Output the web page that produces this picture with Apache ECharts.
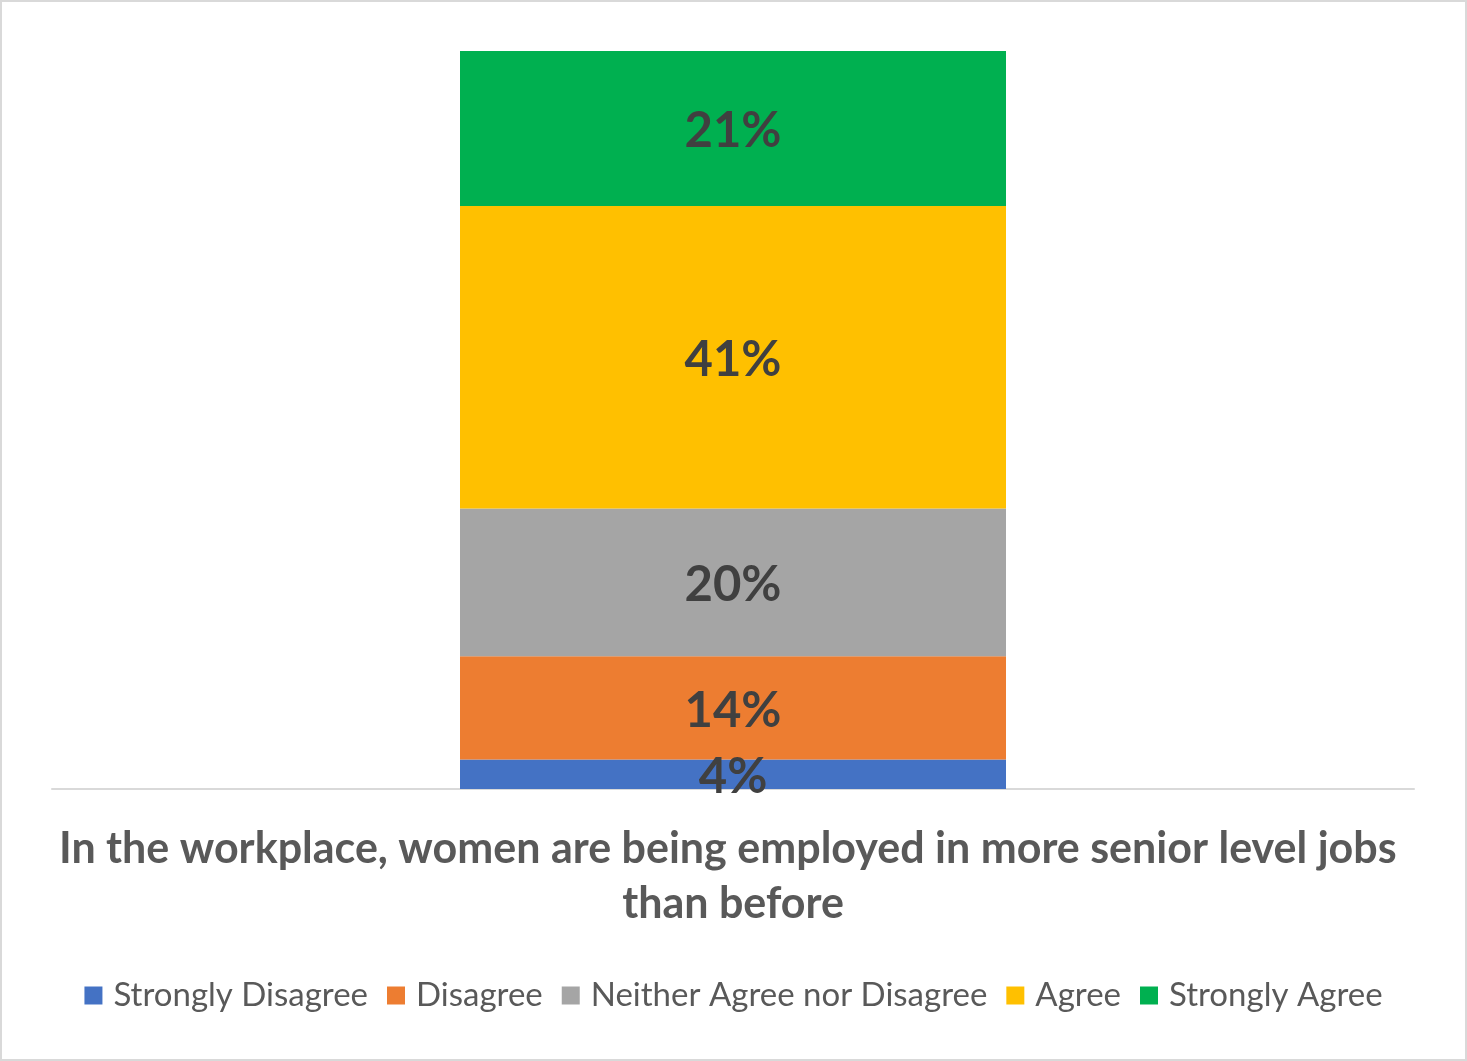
<!DOCTYPE html>
<html>
<head>
    <meta charset="utf-8">
    <title>ECharts</title>
    <script type="text/javascript" src="https://cdn.jsdelivr.net/npm/echarts@6/dist/echarts.min.js"></script>
    <style>
        html, body {margin:0; padding:0; background:#fff;}
        #main {position:absolute; left:0; top:0; width:1463px; height:1057px; border:2px solid #d9d9d9;}
    </style>
</head>
<body>
	<div id="main"></div>
	<script type="text/javascript">
	var categories = ['In the workplace, women are being employed in more senior level jobs than before'];
	var seriesNames = ['Strongly Disagree', 'Disagree', 'Neither Agree nor Disagree', 'Agree', 'Strongly Agree'];
	var seriesValues = [[4], [14], [20], [41], [21]];
	var colors = ['#4472c4', '#ed7d31', '#a5a5a5', '#ffc000', '#00b050'];

	var myChart = echarts.init(document.getElementById('main'));
	var font = 'Lato, "Open Sans", sans-serif';
	var option = {
	    animation: false,
	    textStyle: {fontFamily: font},
	    grid: {left: 50, right: 51, top: 49, bottom: 270},
	    legend: {
	        bottom: 42,
	        left: 'center',
	        itemWidth: 18,
	        itemHeight: 18,
	        itemGap: 19,
	        icon: 'rect',
	        textStyle: {fontSize: 33, color: '#595959', fontFamily: font, padding: [0, 0, 0, 6]},
	        data: seriesNames
	    },
	    xAxis: {
	        type: 'category',
	        data: categories,
	        axisLine: {lineStyle: {color: '#d9d9d9', width: 2}},
	        axisTick: {show: false},
	        axisLabel: {
	            interval: 0,
	            width: 1380,
	            overflow: 'break',
	            margin: 33,
	            lineHeight: 55,
	            fontSize: 43,
	            fontWeight: 'bold',
	            color: '#595959',
	            fontFamily: font
	        }
	    },
	    yAxis: {
	        type: 'value',
	        min: 0,
	        max: 100,
	        show: false
	    },
	    series: []
	};
	seriesNames.forEach(function(v, k){
	    option.series.push({
	        name: v,
	        type: 'bar',
	        stack: 'total',
	        barWidth: 546,
	        data: seriesValues[k],
	        itemStyle: {color: colors[k]},
	        label: {
	            show: true,
	            position: 'inside',
	            offset: [0, 3],
	            formatter: '{c}%',
	            fontSize: 49,
	            fontWeight: 'bold',
	            color: '#404040',
	            fontFamily: font
	        }
	    });
	});
	myChart.setOption(option);
	</script>
</body>
</html>
